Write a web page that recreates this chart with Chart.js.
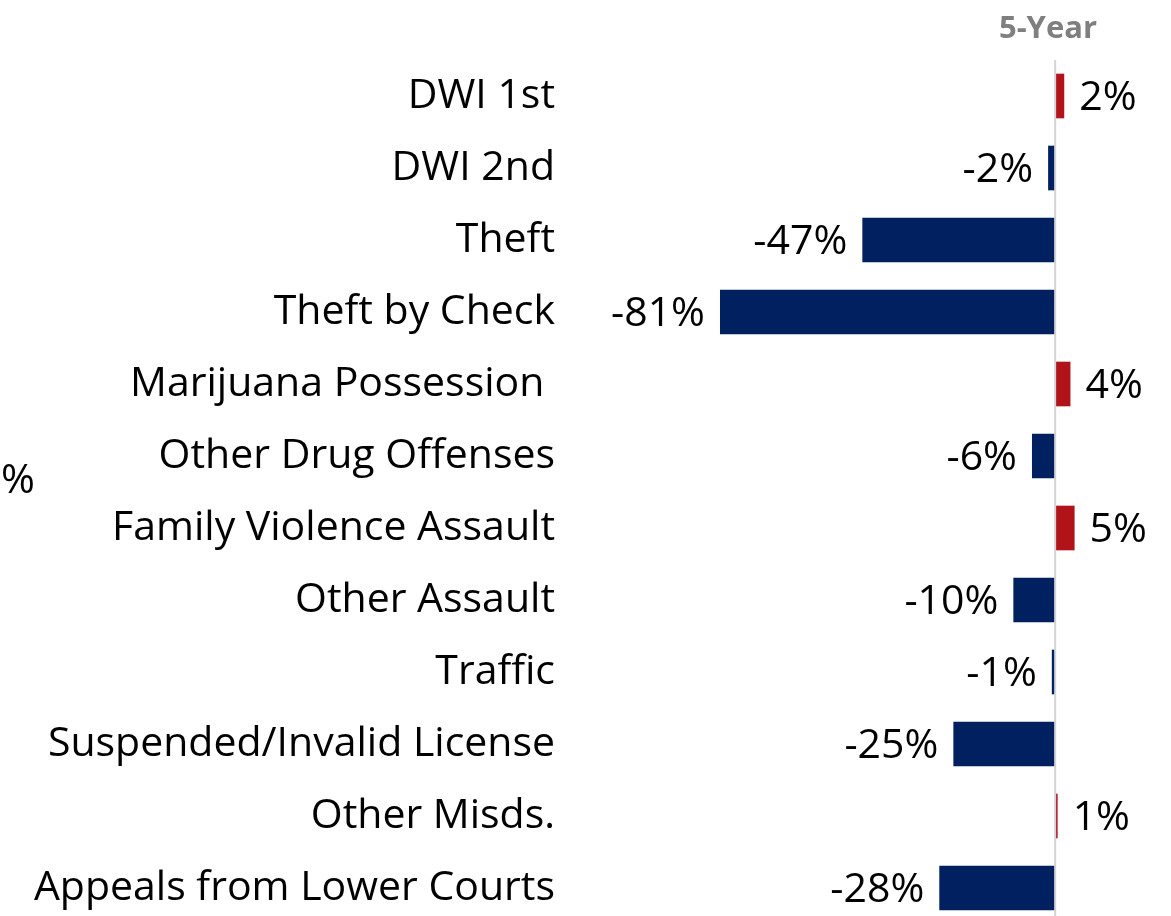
<!DOCTYPE html>
<html>
<head>
<meta charset="utf-8">
<script src="https://cdn.jsdelivr.net/npm/chart.js@4.4.1/dist/chart.umd.min.js"></script>
<style>
html,body{margin:0;padding:0;background:#fff;overflow:hidden;}
canvas{display:block;}
</style>
</head>
<body>
<canvas id="c" width="1171" height="924" style="width:1171px;height:924px;"></canvas>
<script>
const categories = ["DWI 1st","DWI 2nd","Theft","Theft by Check","Marijuana Possession ","Other Drug Offenses","Family Violence Assault","Other Assault","Traffic","Suspended/Invalid License","Other Misds.","Appeals from Lower Courts"];
const values = [2.2,-1.7,-46.6,-81,3.7,-5.6,4.7,-10.1,-0.8,-24.6,0.6,-28];
const valueLabels = ["2%","-2%","-47%","-81%","4%","-6%","5%","-10%","-1%","-25%","1%","-28%"];
const headerText = "5-Year";
const sideText = "%";

const FONT = "'Open Sans'";
const NAVY = "#002060";
const RED = "#B01419";

const overlay = {
  id:'overlay',
  afterDatasetsDraw(chart){
    const ctx = chart.ctx;
    const xs = chart.scales.x;
    const area = chart.chartArea;
    const x0 = xs.getPixelForValue(0);
    ctx.save();
    ctx.strokeStyle = "#d4d4d4";
    ctx.lineWidth = 2;
    ctx.beginPath();
    ctx.moveTo(x0, area.top);
    ctx.lineTo(x0, area.bottom);
    ctx.stroke();
    const meta = chart.getDatasetMeta(0);
    ctx.font = "41px " + FONT;
    ctx.fillStyle = "#000";
    ctx.textBaseline = "middle";
    meta.data.forEach((bar, i) => {
      const v = values[i];
      if (v >= 0) {
        ctx.textAlign = "left";
        ctx.fillText(valueLabels[i], bar.x + 15, bar.y + 2);
      } else {
        ctx.textAlign = "right";
        ctx.fillText(valueLabels[i], bar.x - 15, bar.y + 2);
      }
    });
    ctx.font = "bold 31px " + FONT;
    ctx.fillStyle = "#7f7f7f";
    ctx.textAlign = "center";
    ctx.fillText(headerText, 1048, 29);
    ctx.font = "41px " + FONT;
    ctx.fillStyle = "#000";
    ctx.textAlign = "left";
    ctx.fillText(sideText, 1, 481);
    ctx.restore();
  }
};

new Chart(document.getElementById('c'), {
  type: 'bar',
  data: {
    labels: categories,
    datasets: [{
      data: values,
      backgroundColor: values.map(v => v >= 0 ? RED : NAVY),
      borderWidth: 0,
      barPercentage: 0.62,
      categoryPercentage: 1
    }]
  },
  options: {
    indexAxis: 'y',
    responsive: false,
    animation: false,
    layout: { padding: { top: 60, bottom: 0, left: 0, right: 0 } },
    plugins: { legend: { display: false }, tooltip: { enabled: false }, title: { display: false } },
    scales: {
      x: { display: false, min: -110, max: 28 },
      y: {
        afterFit(scale){ scale.width = 600; scale.paddingTop = 0; scale.paddingBottom = 0; },
        grid: { display: false, drawTicks: false },
        border: { display: false },
        ticks: { padding: 45, color: "#000", font: { family: "Open Sans", size: 41 }, autoSkip: false }
      }
    }
  },
  plugins: [overlay]
});
</script>
</body>
</html>
